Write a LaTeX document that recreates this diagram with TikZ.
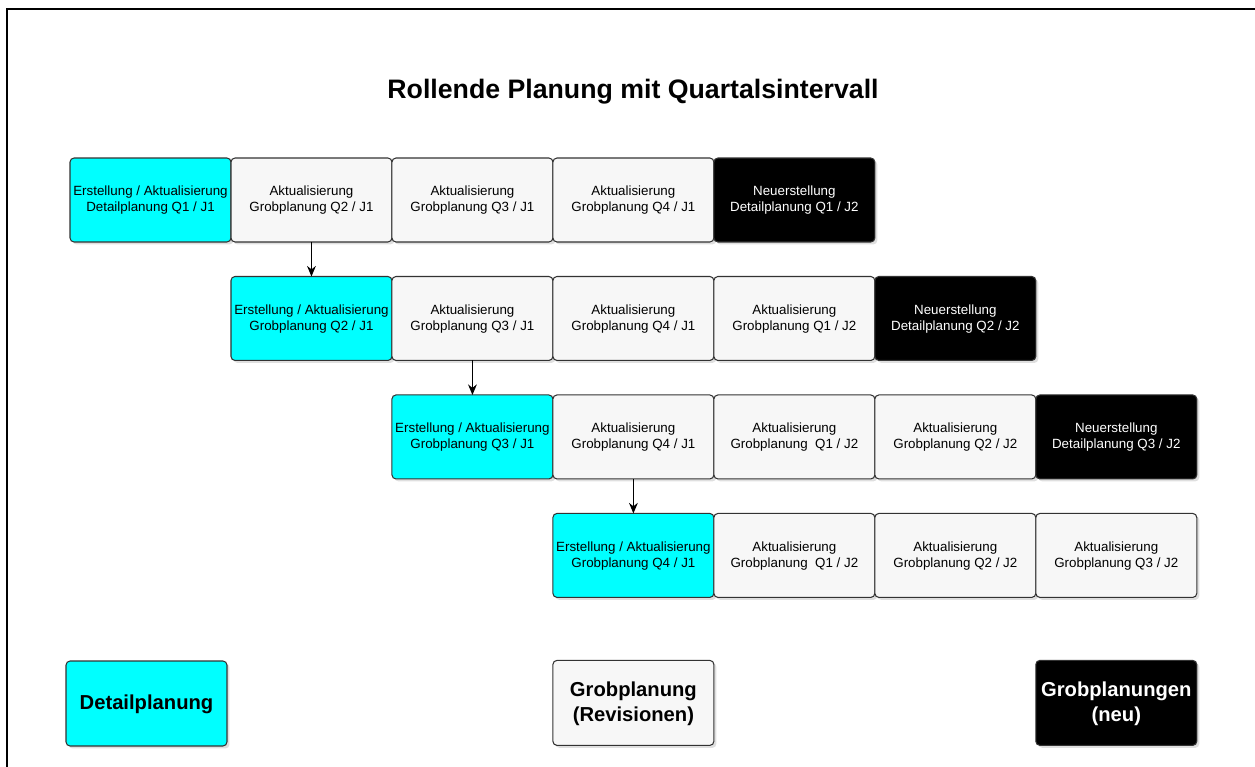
\documentclass[tikz,border=0pt]{standalone}
\usepackage{fontspec}
\setmainfont{Liberation Sans}
\usetikzlibrary{positioning,arrows.meta,shadows}
\definecolor{planCyan}{RGB}{0,255,255}

\begin{document}
\begin{tikzpicture}[
  x=0.02cm, y=-0.02cm,
  node distance=0.69cm and 0pt,
  box/.style={draw=black!80, line width=0.6pt, rounded corners=2.3pt, align=center, minimum width=3.22cm, minimum height=1.68cm, inner sep=1pt, outer sep=0pt, font=\fontsize{7.6}{9.1}\selectfont, text depth=1pt, drop shadow={shadow xshift=0.05cm, shadow yshift=-0.05cm, opacity=0.25}},
  det/.style={box, fill=planCyan},
  grob/.style={box, fill=black!3},
  neu/.style={box, fill=black, text=white},
  leg/.style={font=\fontsize{11.5}{14.2}\selectfont\bfseries, minimum height=1.7cm},
  arr/.style={-{Stealth[length=6pt,width=5pt]}, line width=0.6pt}
]
\useasboundingbox (0,0) rectangle (1255,767);
\draw[line width=0.6pt] (7,767) -- (7,9) -- (1255,9);
\node[font=\fontsize{15.2}{18}\selectfont\bfseries] (Title) at (633,92) {Rollende Planung mit Quartalsintervall};
% Zeile 1
\node[det] (D1) at (150.5,200) {Erstellung / Aktualisierung\\Detailplanung Q1 / J1};
\node[grob, right=of D1] (G1Q2) {Aktualisierung\\Grobplanung Q2 / J1};
\node[grob, right=of G1Q2] (G1Q3) {Aktualisierung\\Grobplanung Q3 / J1};
\node[grob, right=of G1Q3] (G1Q4) {Aktualisierung\\Grobplanung Q4 / J1};
\node[neu, right=of G1Q4] (N1) {Neuerstellung\\Detailplanung Q1 / J2};
% Zeile 2
\node[det, below=of G1Q2] (D2) {Erstellung / Aktualisierung\\Grobplanung Q2 / J1};
\node[grob, right=of D2] (G2Q3) {Aktualisierung\\Grobplanung Q3 / J1};
\node[grob, right=of G2Q3] (G2Q4) {Aktualisierung\\Grobplanung Q4 / J1};
\node[grob, right=of G2Q4] (G2Q1) {Aktualisierung\\Grobplanung Q1 / J2};
\node[neu, right=of G2Q1] (N2) {Neuerstellung\\Detailplanung Q2 / J2};
% Zeile 3
\node[det, below=of G2Q3] (D3) {Erstellung / Aktualisierung\\Grobplanung Q3 / J1};
\node[grob, right=of D3] (G3Q4) {Aktualisierung\\Grobplanung Q4 / J1};
\node[grob, right=of G3Q4] (G3Q1) {Aktualisierung\\Grobplanung~ Q1 / J2};
\node[grob, right=of G3Q1] (G3Q2) {Aktualisierung\\Grobplanung Q2 / J2};
\node[neu, right=of G3Q2] (N3) {Neuerstellung\\Detailplanung Q3 / J2};
% Zeile 4
\node[det, below=of G3Q4] (D4) {Erstellung / Aktualisierung\\Grobplanung Q4 / J1};
\node[grob, right=of D4] (G4Q1) {Aktualisierung\\Grobplanung~ Q1 / J2};
\node[grob, right=of G4Q1] (G4Q2) {Aktualisierung\\Grobplanung Q2 / J2};
\node[grob, right=of G4Q2] (G4Q3) {Aktualisierung\\Grobplanung Q3 / J2};
% Legende
\node[det, leg] (LDet) at (146.5,703.5) {Detailplanung};
\node[grob, leg, below=1.26cm of D4] (LGrob) {Grobplanung\\(Revisionen)};
\node[neu, leg, below=1.26cm of G4Q3] (LNeu) {Grobplanungen\\(neu)};
\draw[arr] (G1Q2) -- (D2);
\draw[arr] (G2Q3) -- (D3);
\draw[arr] (G3Q4) -- (D4);
\end{tikzpicture}
\end{document}
